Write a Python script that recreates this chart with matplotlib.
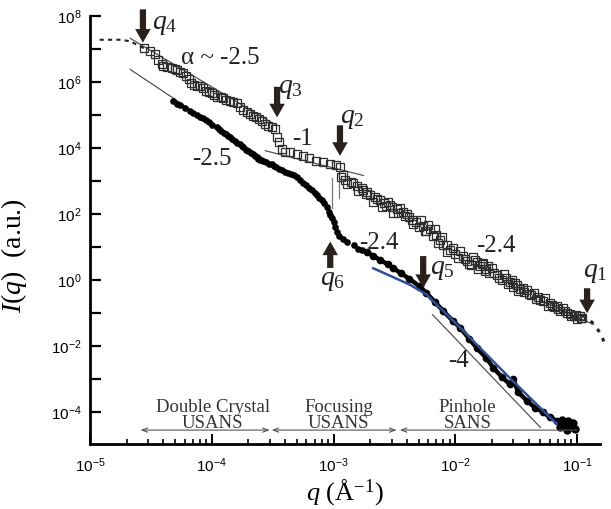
import matplotlib
matplotlib.use("Agg")
import matplotlib.pyplot as plt
from matplotlib.ticker import LogLocator, FuncFormatter, NullLocator
import numpy as np

plt.rcParams['mathtext.fontset'] = 'custom'
plt.rcParams['mathtext.rm'] = 'Liberation Serif'
plt.rcParams['mathtext.it'] = 'Liberation Serif:italic'
plt.rcParams['mathtext.sf'] = 'Liberation Sans'

# open squares (upper curve)
sq_q = [2.8e-5, 3.1e-5, 3.4e-5, 3.9e-5, 4.3e-5, 4.7e-5, 5.2e-5, 5.8e-5, 6.5e-5, 7.2e-5,
        8.0e-5, 9.0e-5, 1.0e-4, 1.1e-4, 1.24e-4, 1.4e-4, 1.6e-4, 1.8e-4, 2.06e-4, 2.3e-4,
        2.6e-4, 2.9e-4, 3.3e-4, 3.45e-4, 3.6e-4, 3.75e-4, 4.0e-4, 4.4e-4, 5.0e-4, 5.6e-4,
        6.3e-4, 7.2e-4, 8.2e-4, 9.3e-4, 1.05e-3, 1.13e-3, 1.15e-3, 1.25e-3, 1.38e-3, 1.55e-3,
        1.6e-3, 1.76e-3, 2.0e-3, 2.1e-3, 2.29e-3, 2.5e-3, 2.6e-3, 2.92e-3, 3.1e-3, 3.3e-3,
        3.5e-3, 3.7e-3, 4.2e-3, 4.5e-3, 4.8e-3, 5.4e-3, 5.8e-3, 6.2e-3, 7.0e-3, 7.5e-3,
        8.0e-3, 9.0e-3, 1.0e-2, 1.1e-2, 1.2e-2, 1.3e-2, 1.4e-2, 1.5e-2, 1.6e-2, 1.7e-2,
        1.8e-2, 1.9e-2, 2.0e-2, 2.2e-2, 2.4e-2, 2.5e-2, 2.8e-2, 3.0e-2, 3.1e-2, 3.4e-2,
        3.7e-2, 3.9e-2, 4.2e-2, 4.6e-2, 4.8e-2, 5.3e-2, 5.8e-2, 6.0e-2, 6.5e-2, 7.2e-2,
        7.6e-2, 8.3e-2, 8.8e-2, 9.5e-2, 1.0e-1, 1.05e-1, 1.1e-1]
sq_I = [1.1e7, 8.5e6, 7.0e6, 3.4e6, 2.8e6, 2.7e6, 2.3e6, 1.9e6, 1.2e6, 8.0e5,
        7.4e5, 5.5e5, 4.5e5, 3.6e5, 3.3e5, 2.6e5, 2.3e5, 1.4e5, 1.05e5, 8.5e4,
        6.6e4, 4.8e4, 3.7e4, 2.2e4, 1.5e4, 9.3e3, 7.5e3, 7.4e3, 6.5e3, 5.9e3,
        5.0e3, 4.2e3, 3.8e3, 3.3e3, 3.0e3, 2.6e3, 1.3e3, 1.1e3, 9.3e2, 7.0e2,
        5.0e2, 5.2e2, 3.8e2, 2.4e2, 2.95e2, 1.6e2, 2.2e2, 1.86e2, 1.1e2, 1.4e2,
        1.5e2, 1.17e2, 8.0e1, 5.0e1, 5.9e1, 4.5e1, 3.0e1, 3.6e1, 2.4e1, 1.6e1,
        1.15e1, 8.0, 6.0, 7.5, 4.5, 3.2, 5.0, 3.6, 2.6, 3.4,
        2.2, 1.6, 2.3, 1.4, 1.0, 1.5, 0.9, 0.62, 0.85, 0.55,
        0.45, 0.5, 0.35, 0.27, 0.32, 0.23, 0.17, 0.21, 0.15, 0.12,
        0.14, 0.10, 0.095, 0.08, 0.065, 0.085, 0.072]
# more squares from the thick parts of the band
sq2_q = [3.6e-5, 4.0e-5, 5.0e-5, 5.5e-5, 6.2e-5, 6.8e-5, 7.6e-5, 8.5e-5, 9.5e-5, 1.05e-4,
         1.18e-4, 1.32e-4, 1.5e-4, 1.7e-4, 1.95e-4, 2.2e-4, 2.45e-4, 2.75e-4, 3.1e-4,
         1.2e-3, 1.3e-3, 1.45e-3, 1.7e-3, 1.85e-3, 1.9e-3, 2.2e-3, 2.4e-3, 2.7e-3, 2.8e-3,
         3.0e-3, 3.4e-3, 3.9e-3, 4.0e-3, 4.4e-3, 5.0e-3, 5.2e-3, 5.6e-3, 6.0e-3, 6.6e-3,
         6.8e-3, 7.2e-3, 7.8e-3, 8.5e-3, 8.6e-3, 9.5e-3, 1.05e-2, 1.15e-2, 1.25e-2, 1.35e-2,
         1.45e-2, 1.55e-2, 1.65e-2, 1.75e-2, 1.85e-2, 2.1e-2, 2.3e-2, 2.6e-2, 2.7e-2, 2.9e-2,
         3.2e-2, 3.3e-2, 3.6e-2, 4.0e-2, 4.4e-2, 5.0e-2, 5.5e-2, 6.2e-2, 6.8e-2, 7.0e-2,
         8.0e-2, 9.0e-2, 9.8e-2, 1.08e-1]
sq2_I = [4.5e6, 3.0e6, 2.5e6, 2.0e6, 1.5e6, 9.5e5, 7.8e5, 6.5e5, 5.0e5, 4.0e5,
         3.4e5, 2.9e5, 2.4e5, 1.7e5, 1.2e5, 9.5e4, 7.5e4, 5.5e4, 4.2e4,
         1.5e3, 8.0e2, 8.5e2, 6.2e2, 4.0e2, 4.8e2, 3.3e2, 2.6e2, 1.8e2, 2.3e2,
         1.6e2, 1.1e2, 9.0e1, 1.0e2, 6.5e1, 4.0e1, 6.5e1, 3.0e1, 4.8e1, 2.2e1,
         3.5e1, 1.3e1, 2.0e1, 1.2e1, 7.0, 9.5, 4.8, 5.5, 3.9, 2.8,
         4.0, 2.2, 3.0, 1.9, 2.6, 1.7, 1.2, 1.2, 0.75, 1.0,
         0.7, 0.48, 0.6, 0.38, 0.4, 0.26, 0.28, 0.18, 0.16, 0.13,
         0.12, 0.085, 0.09, 0.07]

# filled circles (lower curve), USANS part
ci_q = [4.8e-5, 5.5e-5, 6.0e-5, 6.6e-5, 7.5e-5, 8.5e-5, 9.5e-5, 1.1e-4, 1.2e-4, 1.3e-4,
        1.41e-4, 1.55e-4, 1.7e-4, 1.82e-4, 2.0e-4, 2.2e-4, 2.34e-4, 2.5e-4, 2.8e-4, 3.1e-4,
        3.4e-4, 3.8e-4, 4.2e-4, 4.7e-4, 5.3e-4, 6.0e-4, 6.6e-4, 7.3e-4, 8.0e-4, 8.8e-4,
        9.4e-4, 1.0e-3, 1.06e-3, 1.2e-3, 1.46e-3, 1.6e-3, 1.87e-3,
        5.2e-5, 7.0e-5, 8.0e-5, 9.0e-5, 1.0e-4, 1.15e-4, 1.25e-4, 1.36e-4, 1.48e-4, 1.62e-4,
        1.76e-4, 1.9e-4, 2.1e-4, 2.27e-4, 2.42e-4, 2.65e-4, 2.95e-4, 3.25e-4, 3.6e-4, 4.0e-4,
        4.45e-4, 5.0e-4, 5.6e-4, 6.3e-4, 7.0e-4, 7.6e-4, 8.4e-4, 9.1e-4, 9.7e-4, 1.03e-3,
        1.1e-3, 1.3e-3, 1.7e-3]
ci_I = [2.6e5, 2.0e5, 1.6e5, 1.3e5, 1.0e5, 8.3e4, 6.0e4, 4.2e4, 3.2e4, 2.6e4,
        2.1e4, 1.6e4, 1.3e4, 1.05e4, 8.0e3, 6.5e3, 5.2e3, 4.5e3, 3.7e3, 3.2e3,
        2.6e3, 2.1e3, 1.8e3, 1.5e3, 1.1e3, 7.4e2, 5.2e2, 3.7e2, 2.6e2, 1.66e2,
        9.1e1, 5.8e1, 2.9e1, 1.8e1, 1.15e1, 9.0, 7.2,
        2.2e5, 1.15e5, 9.0e4, 7.0e4, 5.0e4, 3.7e4, 2.9e4, 2.3e4, 1.85e4, 1.45e4,
        1.15e4, 9.0e3, 7.2e3, 5.8e3, 4.8e3, 4.1e3, 3.4e3, 2.9e3, 2.3e3, 1.95e3,
        1.65e3, 1.3e3, 9.0e2, 6.2e2, 4.4e2, 3.1e2, 2.1e2, 1.2e2, 7.5e1, 4.0e1,
        2.2e1, 1.4e1, 8.0]

# filled circles, SANS part (dense)
sans_q = [1.87e-3, 2.1e-3, 2.42e-3, 2.8e-3, 3.1e-3, 3.6e-3, 4.2e-3, 5.1e-3, 5.8e-3, 6.8e-3,
          8.0e-3, 9.5e-3, 1.1e-2, 1.3e-2, 1.5e-2, 1.8e-2, 2.06e-2, 2.4e-2, 2.8e-2, 3.0e-2,
          3.3e-2, 3.9e-2, 4.5e-2, 5.3e-2, 6.0e-2, 6.8e-2]
sans_I = [7.2, 5.5, 4.1, 3.0, 2.3, 1.6, 1.1, 0.65, 0.41, 0.22,
          0.115, 0.06, 0.036, 0.017, 8.9e-3, 4.4e-3, 2.2e-3, 1.2e-3, 7.1e-4, 1.0e-3,
          4.0e-4, 2.2e-4, 1.4e-4, 1.0e-4, 7.0e-5, 5.6e-5]
tail_q = [7.2e-2, 7.5e-2, 7.8e-2, 8.2e-2, 8.5e-2, 8.8e-2, 9.2e-2, 9.6e-2]
tail_I = [3.5e-5, 6.0e-5, 4.5e-5, 3.0e-5, 5.5e-5, 3.8e-5, 4.8e-5, 3.2e-5]

# model fit (blue) on SANS data
fit_q = [2.12e-3, 3.0e-3, 4.27e-3, 5.85e-3, 1.1e-2, 2.8e-2, 6.8e-2]
fit_I = [2.3, 1.3, 0.72, 0.36, 0.036, 1.1e-3, 4.5e-5]

# dotted model at both ends of the squares
dot1_q = [1.2e-5, 1.5e-5, 1.8e-5, 2.14e-5, 2.57e-5, 2.9e-5]
dot1_I = [1.9e7, 1.9e7, 1.9e7, 1.7e7, 1.2e7, 1.0e7]
dot2_q = [0.11, 0.12, 0.13, 0.14, 0.15, 0.16, 0.17]
dot2_I = [0.085, 0.075, 0.058, 0.042, 0.03, 0.02, 0.011]

# power-law guide lines: (q0, I0, q1, I1)
guides = [(2.14e-5, 2.1e7, 3.3e-4, 5.2e4),
          (2.14e-5, 2.4e6, 4.0e-4, 1.8e3),
          (2.75e-4, 8.3e3, 1.76e-3, 1.48e3),
          (6.5e-3, 0.091, 5.0e-2, 3.5e-5),
          (5.0e-2, 0.25, 0.136, 0.046)]
vbars = [(9.7e-4, 1.5e2, 1.2e3), (1.1e-3, 3.0e2, 1.5e3)]

slope_labels = [("α ~ -2.5", 1.18e-4, 5.5e6), ("-1", 5.6e-4, 1.86e4),
                ("-2.5", 1.0e-4, 4.7e3), ("-2.4", 2.35e-3, 13.0),
                ("-2.4", 2.15e-2, 11.0), ("-4", 1.06e-2, 3.6e-3)]

# arrows: label, tip q, tip I, length (pt), direction, label q, label I
arrows = [("4", 2.72e-5, 1.55e7, 24, -1, 3.2e-5, 6.2e7),
          ("3", 3.44e-4, 8.5e4, 22, -1, 3.5e-4, 7.2e5),
          ("2", 1.13e-3, 5.8e3, 22, -1, 1.13e-3, 8.5e4),
          ("1", 1.21e-1, 0.10, 18, -1, 1.12e-1, 1.9),
          ("5", 5.45e-3, 0.58, 23, -1, 6.2e-3, 2.3),
          ("6", 9.4e-4, 14.8, 19, 1, 7.8e-4, 1.07)]

ranges = [("Double Crystal\nUSANS", 2.6e-5, 3.0e-4, 1.02e-4, '<->'),
          ("Focusing\nUSANS", 3.1e-4, 3.3e-3, 1.1e-3, '<->'),
          ("Pinhole\nSANS", 3.5e-3, 1.0e-1, 1.26e-2, '<-')]
range_y = 2.9e-5

fig = plt.figure(figsize=(6.11, 5.09), dpi=100)
ax = fig.add_axes([0.1473, 0.1277, 0.835, 0.841])
ax.set_xscale('log')
ax.set_yscale('log')
ax.set_xlim(1e-5, 0.155)
ax.set_ylim(1.1e-5, 1e8)

ink = '#2a211d'
for q0, I0, q1, I1 in guides:
    ax.plot([q0, q1], [I0, I1], color='#555555', lw=0.9, zorder=2)
for qv, lo, hi in vbars:
    ax.plot([qv, qv], [lo, hi], color='#777777', lw=0.9, zorder=2)

ax.plot(dot1_q, dot1_I, ls=(0, (2, 2)), color='#222222', lw=1.5)
ax.plot(dot2_q, dot2_I, ls=(0, (1.2, 2.2)), color='#222222', lw=2.2, clip_on=False)

ax.plot(sq_q, sq_I, 's', ms=5.8, mfc='none', mec='#2e2e2e', mew=0.9, zorder=3)
ax.plot(sq2_q, sq2_I, 's', ms=5.8, mfc='none', mec='#2e2e2e', mew=0.9, zorder=3)
ax.plot(ci_q, ci_I, 'o', ms=4.8, color='black', mew=0, zorder=3)
ax.plot(sans_q, sans_I, 'o-', ms=4.5, lw=3.2, color='black', zorder=3)
ax.plot(tail_q, tail_I, 'o', ms=5, color='black', zorder=3, clip_on=False)
ax.plot(fit_q, fit_I, color='#2f4f9e', lw=1.8, zorder=4)

for txt, x, y in slope_labels:
    ax.text(x, y, txt, fontsize=18, family='Liberation Serif', ha='center', va='center', color='#222222')

for n, qt, It, L, d, ql, Il in arrows:
    ax.annotate('', xy=(qt, It), xytext=(0, -d * L), textcoords='offset points',
                arrowprops=dict(arrowstyle='simple,head_width=0.8,head_length=0.7,tail_width=0.32',
                                fc=ink, ec='none', mutation_scale=14, shrinkA=0, shrinkB=0),
                annotation_clip=False)
    ax.text(ql, Il, '$q_{%s}$' % n, fontsize=20, ha='left', va='center', color='#222222')

for txt, x0, x1, xc, st in ranges:
    ax.annotate('', xy=(x1, range_y), xytext=(x0, range_y),
                arrowprops=dict(arrowstyle=st + ',head_width=0.15,head_length=0.4', color='#555555', lw=0.8,
                                shrinkA=0, shrinkB=0))
    ax.text(xc, 8.0e-5, txt, fontsize=13.5, family='Liberation Serif', ha='center', va='center',
            color='#333333', linespacing=0.9)

for s in ['top', 'right']:
    ax.spines[s].set_visible(False)
for s in ['left', 'bottom']:
    ax.spines[s].set_linewidth(2)

ax.yaxis.set_major_locator(LogLocator(base=10, numticks=20))
ax.yaxis.set_minor_locator(NullLocator())
ax.yaxis.set_major_formatter(FuncFormatter(
    lambda v, p: r'$\mathsf{10^{%d}}$' % round(np.log10(v)) if round(np.log10(v)) % 2 == 0 else ''))
ax.xaxis.set_major_locator(LogLocator(base=10, numticks=20))
ax.xaxis.set_minor_locator(LogLocator(base=10, subs=np.arange(2, 10), numticks=20))
ax.xaxis.set_major_formatter(FuncFormatter(lambda v, p: r'$\mathsf{10^{%d}}$' % round(np.log10(v))))
ax.tick_params(axis='y', which='major', direction='in', length=8, width=1.6, labelsize=11, pad=6)
ax.tick_params(axis='x', which='major', direction='in', length=7, width=1.4, labelsize=11, pad=9)
ax.tick_params(axis='x', which='minor', direction='in', length=3.5, width=1.2)

ax.set_xlabel(r'$q$ (Å$^{-1}$)', fontsize=19, family='Liberation Serif')
ax.xaxis.set_label_coords(0.5, -0.078)
ax.set_ylabel(r'$I$($q$)  (a.u.)', fontsize=20, family='Liberation Serif')
ax.yaxis.set_label_coords(-0.12, 0.44)

fig.savefig('out.png', dpi=100)
